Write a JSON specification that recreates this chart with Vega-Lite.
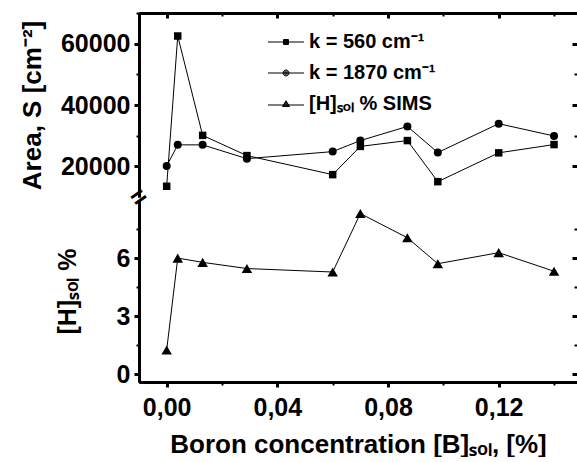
{
  "$schema": "https://vega.github.io/schema/vega-lite/v6.json",
  "background": "white",
  "padding": {"left": 19, "top": 11, "right": 0, "bottom": 0},
  "bounds": "flush",
  "spacing": 3,
  "datasets": {
    "area": [
      {"B": 0.000, "s": "k560", "S": 13500},
      {"B": 0.004, "s": "k560", "S": 62500},
      {"B": 0.013, "s": "k560", "S": 30100},
      {"B": 0.029, "s": "k560", "S": 23500},
      {"B": 0.060, "s": "k560", "S": 17300},
      {"B": 0.070, "s": "k560", "S": 26500},
      {"B": 0.087, "s": "k560", "S": 28400},
      {"B": 0.098, "s": "k560", "S": 15000},
      {"B": 0.120, "s": "k560", "S": 24400},
      {"B": 0.140, "s": "k560", "S": 27100},
      {"B": 0.000, "s": "k1870", "S": 20100},
      {"B": 0.004, "s": "k1870", "S": 27000},
      {"B": 0.013, "s": "k1870", "S": 27000},
      {"B": 0.029, "s": "k1870", "S": 22500},
      {"B": 0.060, "s": "k1870", "S": 24800},
      {"B": 0.070, "s": "k1870", "S": 28400},
      {"B": 0.087, "s": "k1870", "S": 33000},
      {"B": 0.098, "s": "k1870", "S": 24500},
      {"B": 0.120, "s": "k1870", "S": 33900},
      {"B": 0.140, "s": "k1870", "S": 29900}
    ],
    "hsol": [
      {"B": 0.000, "H": 1.25},
      {"B": 0.004, "H": 6.0},
      {"B": 0.013, "H": 5.78},
      {"B": 0.029, "H": 5.46},
      {"B": 0.060, "H": 5.28},
      {"B": 0.070, "H": 8.3},
      {"B": 0.087, "H": 7.05},
      {"B": 0.098, "H": 5.71},
      {"B": 0.120, "H": 6.28},
      {"B": 0.140, "H": 5.32}
    ],
    "legend": [
      {"series": "k = 560 cm⁻¹"},
      {"series": "k = 1870 cm⁻¹"},
      {"series": "[H]ₛₒₗ % SIMS"}
    ],
    "marker": [{"kind": "axis break"}]
  },
  "vconcat": [
    {
      "width": 438,
      "height": 184,
      "layer": [
        {
          "data": {"name": "area"},
          "transform": [{"filter": "datum.s == 'k560'"}],
          "mark": {"type": "line", "color": "black", "strokeWidth": 1},
          "encoding": {
            "x": {"field": "B", "type": "quantitative", "scale": {"domain": [-0.01, 0.1483], "nice": false, "zero": false},
                  "axis": {"orient": "top", "values": [0, 0.04, 0.08, 0.12], "labels": false, "tickSize": -5, "tickWidth": 3, "title": null}},
            "y": {"field": "S", "type": "quantitative", "scale": {"domain": [10000, 70000], "nice": false, "zero": false},
                  "axis": {"orient": "left", "values": [20000, 40000, 60000], "format": "d", "tickSize": 5, "tickWidth": 3, "labelPadding": 4, "title": "Area, S [cm⁻²]", "titleFontSize": 26, "titlePadding": 15}}
          }
        },
        {
          "data": {"name": "area"},
          "transform": [{"filter": "datum.s == 'k1870'"}],
          "mark": {"type": "line", "color": "black", "strokeWidth": 1},
          "encoding": {
            "x": {"field": "B", "type": "quantitative", "scale": {"domain": [-0.01, 0.1483], "nice": false, "zero": false},
                  "axis": {"orient": "top", "values": [0.02, 0.06, 0.1, 0.14], "labels": false, "tickSize": -3, "tickWidth": 2, "title": null}},
            "y": {"field": "S", "type": "quantitative", "scale": {"domain": [10000, 70000], "nice": false, "zero": false},
                  "axis": {"orient": "left", "values": [30000, 50000, 70000], "labels": false, "tickSize": 3, "tickWidth": 2, "title": null}}
          }
        },
        {
          "data": {"name": "area"},
          "transform": [{"filter": "datum.s == 'k560'"}],
          "mark": {"type": "point", "shape": "square", "filled": true, "color": "black", "opacity": 1, "size": 56},
          "encoding": {
            "x": {"field": "B", "type": "quantitative", "scale": {"domain": [-0.01, 0.1483], "nice": false, "zero": false}, "axis": null},
            "y": {"field": "S", "type": "quantitative", "scale": {"domain": [10000, 70000], "nice": false, "zero": false},
                  "axis": {"orient": "right", "values": [20000, 40000, 60000], "labels": false, "domain": false, "tickSize": -5, "tickWidth": 3, "title": null}}
          }
        },
        {
          "data": {"name": "area"},
          "transform": [{"filter": "datum.s == 'k1870'"}],
          "mark": {"type": "point", "shape": "circle", "filled": true, "color": "black", "opacity": 1, "size": 64},
          "encoding": {
            "x": {"field": "B", "type": "quantitative", "scale": {"domain": [-0.01, 0.1483], "nice": false, "zero": false}, "axis": null},
            "y": {"field": "S", "type": "quantitative", "scale": {"domain": [10000, 70000], "nice": false, "zero": false},
                  "axis": {"orient": "right", "values": [30000, 50000], "labels": false, "domain": false, "tickSize": -3, "tickWidth": 2, "title": null}}
          }
        },
        {
          "data": {"name": "legend"},
          "transform": [{"filter": "false"}],
          "mark": {"type": "point", "filled": false, "color": "black", "opacity": 1, "size": 25, "strokeWidth": 1},
          "encoding": {
            "shape": {
              "field": "series", "type": "nominal",
              "scale": {
                "domain": ["k = 560 cm⁻¹", "k = 1870 cm⁻¹", "[H]ₛₒₗ % SIMS"],
                "range": [
                  "M-7.2,0L7.2,0M-1,-1L1,-1L1,1L-1,1ZM-1,-0.6L1,-0.6M-1,-0.2L1,-0.2M-1,0.2L1,0.2M-1,0.6L1,0.6",
                  "M-7.2,0L7.2,0M-1.2,0A1.2,1.2,0,1,1,1.2,0A1.2,1.2,0,1,1,-1.2,0ZM-0.8,0A0.8,0.8,0,1,1,0.8,0A0.8,0.8,0,1,1,-0.8,0ZM-0.4,0A0.4,0.4,0,1,1,0.4,0A0.4,0.4,0,1,1,-0.4,0Z",
                  "M-7.2,0.4L7.2,0.4M0,-1.3L1.4,1L-1.4,1ZM-0.24,-0.9L0.24,-0.9M-0.49,-0.5L0.49,-0.5M-0.73,-0.1L0.73,-0.1M-0.97,0.3L0.97,0.3M-1.22,0.7L1.22,0.7"
                ]
              },
              "legend": {
                "orient": "none", "legendX": 137, "legendY": 19, "title": null,
                "labelFont": "Liberation Sans", "labelFontSize": 20, "labelFontWeight": "bold", "labelColor": "black",
                "symbolSize": 25, "symbolStrokeColor": "black", "symbolStrokeWidth": 1, "symbolOpacity": 1,
                "labelOffset": 13, "rowPadding": 11
              }
            }
          }
        }
      ],
      "resolve": {"axis": {"x": "independent", "y": "independent"}}
    },
    {
      "width": 438,
      "height": 182,
      "layer": [
        {
          "data": {"name": "hsol"},
          "mark": {"type": "line", "color": "black", "strokeWidth": 1},
          "encoding": {
            "x": {"field": "B", "type": "quantitative", "scale": {"domain": [-0.01, 0.1483], "nice": false, "zero": false},
                  "axis": {"orient": "bottom", "values": [0, 0.04, 0.08, 0.12], "labelExpr": "replace(format(datum.value, '.2f'), '.', ',')", "tickSize": 5, "tickWidth": 3, "labelPadding": 8, "title": "Boron concentration [B]ₛₒₗ, [%]", "titleFontSize": 26, "titlePadding": 11}},
            "y": {"field": "H", "type": "quantitative", "scale": {"domain": [-0.4, 9], "nice": false, "zero": false},
                  "axis": {"orient": "left", "values": [0, 3, 6], "format": "d", "tickSize": 5, "tickWidth": 3, "labelPadding": 4, "title": "[H]ₛₒₗ %", "titleFontSize": 25, "titlePadding": 36}}
          }
        },
        {
          "data": {"name": "hsol"},
          "mark": {"type": "point", "shape": "triangle-up", "filled": true, "color": "black", "opacity": 1, "size": 110},
          "encoding": {
            "x": {"field": "B", "type": "quantitative", "scale": {"domain": [-0.01, 0.1483], "nice": false, "zero": false},
                  "axis": {"orient": "bottom", "values": [0.02, 0.06, 0.1, 0.14], "labels": false, "tickSize": 3, "tickWidth": 2, "title": null}},
            "y": {"field": "H", "type": "quantitative", "scale": {"domain": [-0.4, 9], "nice": false, "zero": false},
                  "axis": {"orient": "left", "values": [1.5, 4.5, 7.5], "labels": false, "tickSize": 3, "tickWidth": 2, "title": null}}
          }
        },
        {
          "data": {"name": "hsol"},
          "transform": [{"filter": "false"}],
          "mark": {"type": "point"},
          "encoding": {
            "x": {"field": "B", "type": "quantitative", "scale": {"domain": [-0.01, 0.1483], "nice": false, "zero": false}, "axis": null},
            "y": {"field": "H", "type": "quantitative", "scale": {"domain": [-0.4, 9], "nice": false, "zero": false},
                  "axis": {"orient": "right", "values": [0, 3, 6], "labels": false, "domain": false, "tickSize": -5, "tickWidth": 3, "title": null}}
          }
        },
        {
          "data": {"name": "hsol"},
          "transform": [{"filter": "false"}],
          "mark": {"type": "point"},
          "encoding": {
            "x": {"field": "B", "type": "quantitative", "scale": {"domain": [-0.01, 0.1483], "nice": false, "zero": false}, "axis": null},
            "y": {"field": "H", "type": "quantitative", "scale": {"domain": [-0.4, 9], "nice": false, "zero": false},
                  "axis": {"orient": "right", "values": [1.5, 4.5, 7.5], "labels": false, "domain": false, "tickSize": -3, "tickWidth": 2, "title": null}}
          }
        },
        {
          "data": {"name": "marker"},
          "mark": {"type": "text", "text": "=", "font": "Liberation Sans", "fontSize": 26, "fontWeight": "bold", "angle": -35, "align": "center", "baseline": "middle", "color": "black"},
          "encoding": {
            "x": {"datum": -0.01, "type": "quantitative", "scale": {"domain": [-0.01, 0.1483], "nice": false, "zero": false}, "axis": null},
            "y": {"datum": 9.12, "type": "quantitative", "scale": {"domain": [-0.4, 9], "nice": false, "zero": false}, "axis": null}
          }
        }
      ],
      "resolve": {"axis": {"x": "independent", "y": "independent"}}
    }
  ],
  "config": {
    "font": "Liberation Sans",
    "view": {"stroke": null},
    "axis": {
      "grid": false,
      "domainColor": "black", "domainWidth": 3,
      "tickColor": "black",
      "labelColor": "black", "labelFont": "Liberation Sans", "labelFontSize": 25, "labelFontWeight": "bold",
      "titleColor": "black", "titleFont": "Liberation Sans", "titleFontSize": 25, "titleFontWeight": "bold",
      "labelFlush": false, "labelOverlap": false
    }
  }
}
